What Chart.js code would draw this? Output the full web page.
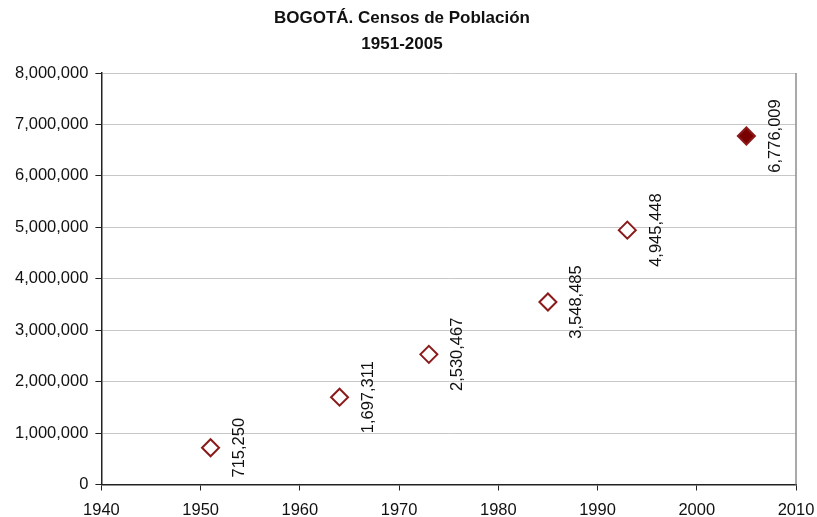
<!DOCTYPE html>
<html>
<head>
<meta charset="utf-8">
<script src="https://cdn.jsdelivr.net/npm/chart.js@4"></script>
<style>
  html, body { margin: 0; padding: 0; background: #fff; }
  #wrap { width: 817px; height: 517px; position: relative; }
</style>
</head>
<body>
<div id="wrap"><canvas id="chart"></canvas></div>
<script>
// Census data (Bogotá)
const years      = [1951, 1964, 1973, 1985, 1993, 2005];
const population = [715250, 1697311, 2530467, 3548485, 4945448, 6776009];
const titleLines = ['BOGOTÁ. Censos de Población', '1951-2005'];
const xTicks     = [1940, 1950, 1960, 1970, 1980, 1990, 2000, 2010];

const markerColor = '#8b1a1a';
const fontFamily = '"Liberation Sans", Arial, sans-serif';
const fmt = v => v.toLocaleString('en-US');

// rotated value labels beside each marker
const pointLabels = {
  id: 'pointLabels',
  afterDatasetsDraw(chart) {
    const ctx = chart.ctx;
    ctx.save();
    ctx.font = '16.5px ' + fontFamily;
    ctx.fillStyle = '#111';
    ctx.textAlign = 'center';
    ctx.textBaseline = 'middle';
    chart.data.datasets.forEach((ds, i) => {
      chart.getDatasetMeta(i).data.forEach((pt, j) => {
        ctx.save();
        ctx.translate(pt.x + 29, pt.y);
        ctx.rotate(-Math.PI / 2);
        ctx.fillText(fmt(ds.data[j].y), 0, 0);
        ctx.restore();
      });
    });
    ctx.restore();
  }
};

// grey frame on the right side of the plot area
const plotFrame = {
  id: 'plotFrame',
  beforeDatasetsDraw(chart) {
    const { ctx, chartArea: a } = chart;
    ctx.save();
    ctx.strokeStyle = '#8c8c8c';
    ctx.lineWidth = 1.5;
    ctx.beginPath();
    ctx.moveTo(a.right, a.top);
    ctx.lineTo(a.right, a.bottom);
    ctx.stroke();
    ctx.restore();
  }
};

const points = years.map((y, i) => ({ x: y, y: population[i] }));
const last = points.length - 1;

new Chart(document.getElementById('chart'), {
  type: 'scatter',
  data: {
    datasets: [{
      data: points,
      pointStyle: 'rectRot',
      pointRadius: 8.5,
      pointHoverRadius: 8.5,
      borderWidth: 2,
      pointBorderColor: markerColor,
      pointBackgroundColor: points.map((p, i) => i === last ? '#7a0000' : '#fff'),
    }],
  },
  options: {
    responsive: true,
    maintainAspectRatio: false,
    animation: false,
    layout: { padding: { left: 8, right: 21, top: 5, bottom: -14 } },
    plugins: {
      legend: { display: false },
      tooltip: { enabled: false },
      title: {
        display: true,
        text: titleLines,
        color: '#111',
        font: { family: fontFamily, size: 17, weight: 'bold', lineHeight: 1.53 },
        padding: { top: 0, bottom: 16 },
      },
    },
    scales: {
      x: {
        type: 'linear',
        min: 1940,
        max: 2010,
        afterBuildTicks: axis => { axis.ticks = xTicks.map(v => ({ value: v })); },
        // let the end labels hang into the padding instead of shrinking the plot
        afterFit: axis => { axis.paddingLeft = 0; axis.paddingRight = 0; },
        grid: { display: true, drawOnChartArea: false, tickLength: 6, color: '#222', tickColor: '#222' },
        border: { display: true, color: '#222', width: 1.5 },
        ticks: {
          color: '#111',
          padding: 12,
          maxRotation: 0,
          font: { family: fontFamily, size: 16.5, lineHeight: 1 },
          callback: v => String(v),
        },
      },
      y: {
        min: 0,
        max: 8000000,
        ticks: {
          stepSize: 1000000,
          color: '#111',
          padding: 7,
          font: { family: fontFamily, size: 16.5 },
          callback: v => fmt(v),
        },
        grid: { color: '#c8c8c8', tickLength: 6, tickColor: '#222', lineWidth: 1 },
        border: { display: true, color: '#222', width: 1.5 },
      },
    },
  },
  plugins: [pointLabels, plotFrame],
});
</script>
</body>
</html>
